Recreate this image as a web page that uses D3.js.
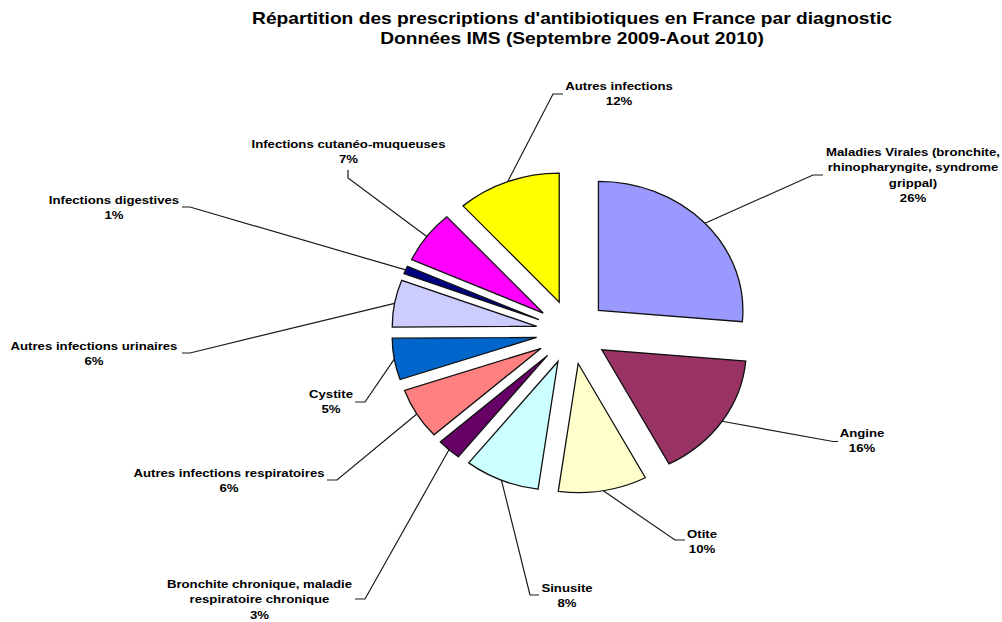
<!DOCTYPE html>
<html lang="fr">
<head>
<meta charset="UTF-8">
<title>Répartition des prescriptions d'antibiotiques en France</title>
<script src="https://d3js.org/d3.v7.min.js"></script>
<style>
  body { margin: 0; background: #fff; }
  svg { display: block; font-family: Arial, "Liberation Sans", sans-serif; }
  .slice { stroke: #111; stroke-width: 1.3px; vector-effect: non-scaling-stroke; }
  .leader { fill: none; stroke: #1a1a1a; stroke-width: 1.2px; }
  .lbl { font-size: 11px; font-weight: bold; fill: #000; }
  .title { font-size: 16px; font-weight: bold; fill: #000; }
</style>
</head>
<body>
<svg width="1002" height="622"></svg>
<script>
// slice names, split on the lines they are printed on
const categories = [
  ["Maladies Virales (bronchite,", "rhinopharyngite, syndrome", "grippal)"],
  ["Angine"],
  ["Otite"],
  ["Sinusite"],
  ["Bronchite chronique, maladie", "respiratoire chronique"],
  ["Autres infections respiratoires"],
  ["Cystite"],
  ["Autres infections urinaires"],
  ["Infections digestives"],
  ["Infections cutanéo-muqueuses"],
  ["Autres infections"]
];
// share of prescriptions (%)
const shares = [26.4, 15.9, 9.9, 8.4, 2.7, 6.4, 5.2, 5.9, 1.0, 6.6, 11.6];
const colors = ["#9999ff", "#993366", "#ffffcc", "#ccffff", "#660066", "#ff8080",
                "#0066cc", "#ccccff", "#000080", "#ff00ff", "#ffff00"];

// where each label sits and how its leader line bends
const labelLayout = [
  { x: 913, y: 156, elbow: [813, 175], end: [823, 175] },
  { x: 862, y: 437, elbow: [833, 441.5], end: [838, 441.5] },
  { x: 702, y: 537.5, elbow: [675, 540], end: [685, 540] },
  { x: 567, y: 592, elbow: [530, 595], end: [539, 595] },
  { x: 259.5, y: 588, elbow: [365, 599], end: [355, 599] },
  { x: 229, y: 477, elbow: [337, 480], end: [327, 480] },
  { x: 331, y: 398, elbow: [365, 402], end: [355, 402] },
  { x: 94, y: 349.5, elbow: [190, 353], end: [182, 353] },
  { x: 114, y: 203.5, elbow: [190, 207], end: [182, 207] },
  { x: 348.5, y: 147.5, elbow: [348, 178], end: [348, 170] },
  { x: 619, y: 89.5, elbow: [553, 94], end: [563, 94] }
];

const cx = 572, cy = 332, r = 129, sx = 1.12, explode = 32;
const textStretch = 1.2, lineH = 15.5;

const svg = d3.select("svg");

const data = categories.map((c, i) => ({ lines: c, share: shares[i], color: colors[i], lay: labelLayout[i] }));
const arcs = d3.pie().sort(null).value(d => d.share)(data);
const arc = d3.arc().innerRadius(0).outerRadius(r);
const fmt = v => Math.round(v) + "%";

// title
const title = svg.append("g").attr("transform", `translate(572,24) scale(1.2,1)`);
title.append("text").attr("class", "title").attr("text-anchor", "middle")
  .text("Répartition des prescriptions d'antibiotiques en France par diagnostic");
title.append("text").attr("class", "title").attr("text-anchor", "middle").attr("y", 20)
  .text("Données IMS (Septembre 2009-Aout 2010)");

// leader lines
const mid = d => (d.startAngle + d.endAngle) / 2;
svg.selectAll(".leader").data(arcs).join("path")
  .attr("class", "leader")
  .attr("d", d => {
    const m = mid(d);
    const ax = cx + sx * Math.sin(m) * (r + explode);
    const ay = cy - Math.cos(m) * (r + explode);
    return d3.line()([[ax, ay], d.data.lay.elbow, d.data.lay.end]);
  });

// exploded slices
const pieG = svg.append("g").attr("transform", `translate(${cx},${cy}) scale(${sx},1)`);
pieG.selectAll(".slice").data(arcs).join("path")
  .attr("class", "slice")
  .attr("fill", d => d.data.color)
  .attr("transform", d => `translate(${Math.sin(mid(d)) * explode},${-Math.cos(mid(d)) * explode})`)
  .attr("d", arc);

// labels
const lbl = svg.selectAll(".lblg").data(arcs).join("g")
  .attr("class", "lblg")
  .attr("transform", d => `translate(${d.data.lay.x},${d.data.lay.y}) scale(${textStretch},1)`);
lbl.append("text").attr("class", "lbl").attr("text-anchor", "middle")
  .selectAll("tspan")
  .data(d => d.data.lines.concat([fmt(d.data.share)]))
  .join("tspan")
  .attr("x", 0)
  .attr("y", (t, i) => i * lineH)
  .text(t => t);
</script>
</body>
</html>
